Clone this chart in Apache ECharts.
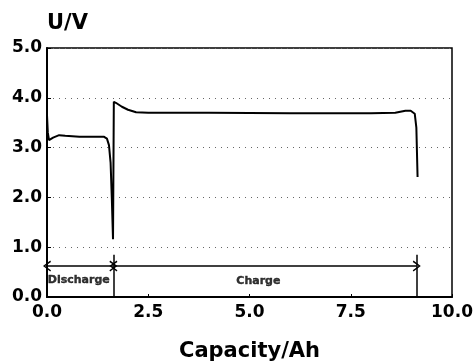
<!DOCTYPE html>
<html>
<head>
<meta charset="utf-8">
<script src="https://cdn.jsdelivr.net/npm/echarts@6/dist/echarts.min.js"></script>
<style>
  html, body { margin: 0; padding: 0; background: #fff; }
  #chart { width: 474px; height: 362px; }
</style>
</head>
<body>
<div id="chart"></div>
<script>
// capacity (Ah) and voltage (V)
var capacity = [0, 0.02, 0.05, 0.15, 0.3, 0.45, 0.8, 1.2, 1.4, 1.48, 1.53, 1.57, 1.6, 1.63,
  1.65, 1.7, 1.85, 2.0, 2.2, 2.5, 4.0, 6.0, 8.0, 8.6, 8.85, 8.98, 9.08, 9.12, 9.15];
var voltage = [3.65, 3.3, 3.15, 3.2, 3.25, 3.24, 3.22, 3.22, 3.22, 3.18, 3.05, 2.7, 2.0, 1.16,
  3.92, 3.9, 3.82, 3.76, 3.71, 3.7, 3.7, 3.69, 3.69, 3.7, 3.74, 3.74, 3.68, 3.4, 2.41];

// annotation: phase boundaries and labels
var phaseEdges = [0, 1.64, 9.13];
var arrowLevel = 0.62;
var markerTop = 0.85;
var phaseLabels = ['Discharge', 'Charge'];
var labelPos = [[0.02, 0.34], [5.22, 0.31]];

var xTicks = { min: 0, max: 10, interval: 2.5 };
var yTicks = { min: 0, max: 5, interval: 1 };

var font = 'DejaVu Sans';
var chevron = 'path://M0,0 L6,10 L4.6,11 L0,3 L-4.6,11 L-6,10 Z';

var curve = capacity.map(function (c, i) { return [c, voltage[i]]; });

var chart = echarts.init(document.getElementById('chart'), null, { renderer: 'canvas' });

var option = {
  backgroundColor: '#fff',
  animation: false,
  grid: {
    left: 47,
    right: 22,
    top: 48,
    bottom: 65,
    outerBoundsMode: 'none',
    containLabel: false,
    show: true,
    borderColor: '#000',
    borderWidth: 1.5
  },
  xAxis: {
    type: 'value',
    min: xTicks.min,
    max: xTicks.max,
    interval: xTicks.interval,
    name: 'Capacity/Ah',
    nameLocation: 'middle',
    nameGap: 44,
    nameTextStyle: { fontFamily: font, fontWeight: 'bold', fontSize: 21, color: '#000' },
    axisLine: { lineStyle: { color: '#000', width: 2 } },
    axisTick: { show: true, inside: true, length: 3, lineStyle: { color: '#000' } },
    axisLabel: {
      margin: 7,
      fontFamily: font, fontWeight: 'bold', fontSize: 17, color: '#000',
      formatter: function (v) { return v.toFixed(1); }
    },
    splitLine: { show: false }
  },
  yAxis: {
    type: 'value',
    min: yTicks.min,
    max: yTicks.max,
    interval: yTicks.interval,
    name: 'U/V',
    nameLocation: 'end',
    nameGap: 14,
    nameTextStyle: { fontFamily: font, fontWeight: 'bold', fontSize: 21, color: '#000',
      align: 'left', verticalAlign: 'bottom' },
    axisLine: { show: true, lineStyle: { color: '#000', width: 2 } },
    axisTick: { show: true, inside: true, length: 4, lineStyle: { color: '#000' } },
    axisLabel: {
      margin: 5,
      fontFamily: font, fontWeight: 'bold', fontSize: 17, color: '#000',
      formatter: function (v) { return v.toFixed(1); }
    },
    splitLine: { show: true, lineStyle: { color: '#666', width: 1, type: [1, 5] } }
  },
  series: [
    {
      type: 'line',
      data: curve,
      showSymbol: false,
      lineStyle: { color: '#000', width: 2 },
      z: 5,
      markLine: {
        silent: true,
        animation: false,
        symbol: 'none',
        label: { show: false },
        lineStyle: { color: '#000', width: 1.5, type: 'solid' },
        data: [
          [{ coord: [phaseEdges[0], arrowLevel], symbol: chevron, symbolSize: [11, 8] },
           { coord: [phaseEdges[1], arrowLevel], symbol: chevron, symbolSize: [11, 8] }],
          [{ coord: [phaseEdges[1], arrowLevel], symbol: chevron, symbolSize: [11, 8] },
           { coord: [phaseEdges[2], arrowLevel], symbol: chevron, symbolSize: [11, 8] }],
          [{ coord: [phaseEdges[1], 0] }, { coord: [phaseEdges[1], markerTop] }],
          [{ coord: [phaseEdges[2], 0] }, { coord: [phaseEdges[2], markerTop] }]
        ]
      }
    },
    {
      type: 'scatter',
      silent: true,
      symbolSize: 0,
      itemStyle: { color: '#000' },
      data: [
        { value: labelPos[0], name: phaseLabels[0], label: { align: 'left' } },
        { value: labelPos[1], name: phaseLabels[1], label: { align: 'center' } }
      ],
      label: {
        show: true,
        position: 'inside',
        formatter: function (p) { return p.name; },
        fontFamily: font, fontWeight: 'bold', fontSize: 11, color: '#000',
        textBorderColor: '#000', textBorderWidth: 0.4
      }
    }
  ]
};

chart.setOption(option);
</script>
</body>
</html>
